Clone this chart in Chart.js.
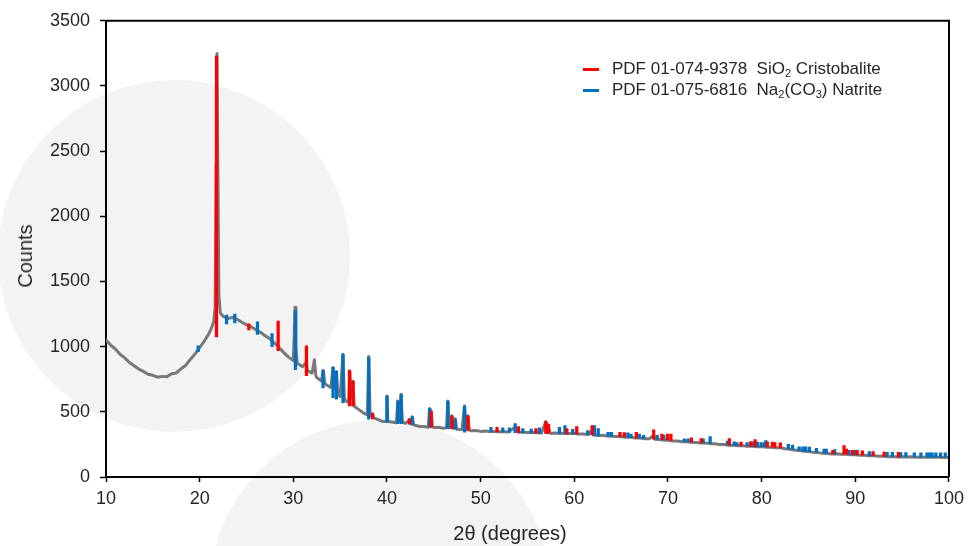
<!DOCTYPE html>
<html>
<head>
<meta charset="utf-8">
<script src="https://cdn.jsdelivr.net/npm/chart.js@4.4.1/dist/chart.umd.min.js"></script>
<style>
html,body{margin:0;padding:0;background:#fff;}
#wrap{position:relative;width:970px;height:546px;overflow:hidden;}
#c{position:absolute;left:0;top:0;}
.txt{position:absolute;font-family:'Liberation Sans',Arial,sans-serif;color:#262626;white-space:pre;line-height:20px;}
.sw{position:absolute;width:16px;height:3px;}
sub{font-size:11px;line-height:0;vertical-align:-3px;}
</style>
</head>
<body>
<div id="wrap">
<canvas id="c" width="970" height="546"></canvas>
<div class="txt" id="xTitle" style="left:510px;top:521px;font-size:20px;line-height:24px;transform:translateX(-50%);">2θ (degrees)</div>
<div class="txt" id="yTitle" style="left:25px;top:256px;font-size:20px;line-height:24px;transform:translate(-50%,-50%) rotate(-90deg);">Counts</div>
<div class="sw" style="left:583px;top:68px;background:#ff0000;"></div>
<div class="txt" style="left:612px;top:59px;font-size:17px;">PDF 01-074-9378  SiO<sub>2</sub> Cristobalite</div>
<div class="sw" style="left:583px;top:89px;background:#0070c0;"></div>
<div class="txt" style="left:612px;top:80px;font-size:17px;">PDF 01-075-6816  Na<sub>2</sub>(CO<sub>3</sub>) Natrite</div>
</div>
<script>
// ---- measured pattern (2θ in degrees, intensity in counts) ----
const scanAngles = [
10,10.5,11,11.5,12,12.5,13,13.5,14,14.5,15,15.5,16,16.5,17,17.5,18,18.5,19,19.5,
20,20.5,21,21.3,21.5,21.65,21.75,21.85,21.95,22.05,22.2,22.5,23,23.5,24,24.5,25,25.5,26,26.5,
27,27.5,28,28.5,29,29.5,30,30.1,30.18,30.28,30.4,30.5,31,31.4,31.5,32,32.25,32.4,32.5,33,
33.2,33.35,33.5,34,34.25,34.4,34.6,34.75,35,35.3,35.45,35.5,35.9,36.02,36.2,36.37,36.5,37,37.5,37.9,
38.05,38.2,38.45,38.6,39,39.5,39.9,40,40.1,40.5,41,41.15,41.3,41.5,41.65,42,42.4,42.55,42.7,42.85,
43,43.5,44,44.4,44.55,44.72,44.85,45,45.5,46,46.35,46.5,46.65,46.93,47.1,47.28,47.45,48,48.28,48.45,
48.64,48.8,49,49.5,50,50.5,51,51.5,52,52.5,53,53.7,54,54.5,55,55.5,56,56.5,56.95,57.2,
57.4,57.5,58,58.5,59,59.5,60,60.5,61,61.5,61.9,62,62.5,63,63.5,64,64.5,65,65.5,66,
66.5,67,67.5,68,68.47,68.6,69,69.5,70,70.5,71,71.5,72,72.5,73,73.5,74,74.5,75,75.5,
76,76.5,77,77.5,78,78.5,79,79.5,80,80.5,81,81.5,82,82.5,83,83.5,84,84.5,85,85.5,
86,86.5,87,87.5,88,88.5,89,89.5,90,90.5,91,91.5,92,92.5,93,93.5,94,94.5,95,95.5,
96,96.5,97,97.5,98,98.5,99,99.5,100
];
const scanCounts = [
1050,1012,982,942,914,878,854,828,810,788,780,766,772,770,792,798,830,856,902,943,
992,1043,1102,1150,1190,1300,2400,3250,2300,1400,1260,1232,1216,1224,1210,1187,1168,1152,1130,1110,
1083,1060,1028,992,953,920,893,1100,1303,1000,878,868,847,880,818,797,900,780,763,737,
818,725,708,687,840,680,810,640,617,942,600,588,572,816,600,735,543,517,490,477,
924,470,487,453,442,426,427,621,425,422,416,583,430,634,420,412,440,408,462,400,
397,388,388,382,525,502,387,380,382,374,377,583,376,470,372,447,366,364,545,363,
470,360,354,356,350,352,350,349,348,347,346,385,344,343,342,341,340,338,425,395,
341,335,337,336,334,333,333,329,330,325,360,323,319,320,315,313,311,309,305,305,
299,299,294,293,320,289,288,283,281,277,276,271,271,266,265,261,260,256,255,249,
249,244,243,239,239,235,235,232,233,229,229,225,225,217,213,207,203,197,196,189,
187,182,181,177,178,175,175,171,171,167,167,163,163,159,159,156,157,154,156,153,
155,152,154,151,153,151,152,150,151
];

// ---- PDF 01-074-9378 SiO2 Cristobalite reference sticks ----
const cristobaliteAngles = [21.80,25.25,28.38,31.40,36.00,36.37,38.45,42.40,44.72,46.93,48.64,51.75,54.04,55.90,56.95,57.25,59.20,60.26,61.90,64.88,65.34,66.62,68.47,69.35,69.95,70.31,72.50,73.55,76.55,77.80,78.84,79.30,80.60,81.15,81.40,82.00,87.60,88.80,89.05,89.70,90.20,90.75,91.90,93.07,94.60];
const cristobaliteLow  = [1075,1128,970,778,545,545,445,405,380,370,358,345,340,336,335,335,330,328,322,310,308,300,290,286,284,280,267,262,245,238,235,234,230,228,227,224,178,176,175,172,170,168,164,158,155];
const cristobaliteHigh = [3230,1175,1197,1007,816,735,487,447,502,470,470,381,386,372,425,405,372,386,394,343,340,343,361,330,330,330,300,295,295,267,272,288,270,268,265,262,205,242,215,205,205,200,195,192,190];

// ---- PDF 01-075-6816 Na2(CO3) Natrite reference sticks ----
const natriteAngles = [19.84,22.87,23.75,26.17,27.73,30.22,33.17,34.24,34.60,35.30,38.05,40.00,41.17,41.52,42.70,44.55,46.50,47.28,48.28,51.10,52.36,53.07,53.68,54.50,55.40,56.28,57.05,58.41,59.00,59.83,61.43,62.14,62.55,63.60,63.95,65.72,66.05,66.94,67.40,68.85,69.55,71.74,72.15,73.76,74.50,76.35,77.07,77.35,78.45,79.15,79.55,79.95,80.30,80.45,82.85,83.30,84.00,84.40,84.70,85.10,85.85,86.67,86.90,87.80,89.33,90.00,91.50,93.40,93.95,94.85,95.40,96.30,97.00,97.65,97.90,98.20,98.60,99.10,99.60];
const natriteLow  = [962,1175,1182,1093,1000,823,684,608,598,570,444,419,410,410,400,380,371,366,343,345,343,342,340,340,336,334,333,331,330,328,324,320,318,314,312,306,304,298,296,288,284,272,270,262,258,246,242,241,236,234,233,232,231,231,218,212,202,199,197,195,189,183,182,178,173,170,164,157,156,155,154,154,153,152,152,152,152,151,151];
const natriteHigh = [1007,1242,1250,1190,1100,1278,816,841,810,942,917,621,583,634,462,525,583,447,545,381,378,378,409,372,368,378,372,381,394,365,356,394,372,343,343,338,330,330,320,320,320,293,293,293,311,275,270,265,265,270,267,265,265,280,250,245,232,232,232,230,220,215,215,210,205,205,195,190,190,188,188,185,185,185,185,185,185,185,185];

// ---- axis ticks ----
const xTicks = [10,20,30,40,50,60,70,80,90,100];
const yTicks = [0,500,1000,1500,2000,2500,3000,3500];

const scanPoints = scanAngles.map((a, i) => ({x: a, y: scanCounts[i]}));
const cristPoints = cristobaliteAngles.map((a, i) => ({x: a, y: [cristobaliteLow[i], cristobaliteHigh[i]]}));
const natPoints = natriteAngles.map((a, i) => ({x: a, y: [natriteLow[i], natriteHigh[i]]}));

const decorPlugin = {
  id: 'decor',
  beforeDraw(chart) {
    const ctx = chart.ctx;
    ctx.save();
    ctx.fillStyle = '#ffffff';
    ctx.fillRect(0, 0, chart.width, chart.height);
    ctx.fillStyle = '#f3f3f3';
    ctx.beginPath(); ctx.arc(174, 256, 176, 0, Math.PI * 2); ctx.fill();
    ctx.beginPath(); ctx.arc(380, 590, 170, 0, Math.PI * 2); ctx.fill();
    ctx.restore();
  },
  afterDraw(chart) {
    const {ctx, chartArea: a} = chart;
    ctx.save();
    ctx.strokeStyle = '#000';
    ctx.lineWidth = 2;
    ctx.beginPath();
    ctx.moveTo(a.left, a.top); ctx.lineTo(a.right, a.top); ctx.lineTo(a.right, a.bottom);
    ctx.stroke();
    ctx.restore();
  }
};

const tickFont = {family: "'Liberation Sans', Arial, sans-serif", size: 18};

new Chart(document.getElementById('c'), {
  type: 'line',
  data: {
    datasets: [
      {type: 'bar', label: 'PDF 01-074-9378 SiO2 Cristobalite', data: cristPoints, backgroundColor: '#ff0000', borderWidth: 0, barThickness: 2.6, grouped: false, order: 0},
      {type: 'bar', label: 'PDF 01-075-6816 Na2(CO3) Natrite', data: natPoints, backgroundColor: '#0070c0', borderWidth: 0, barThickness: 2.6, grouped: false, order: 1},
      {type: 'line', label: 'Scan', data: scanPoints, borderColor: '#787878', borderWidth: 3, borderJoinStyle: 'round', borderCapStyle: 'round', pointRadius: 0, tension: 0, fill: false, order: 2}
    ]
  },
  options: {
    responsive: false,
    animation: false,
    devicePixelRatio: 1,
    layout: {padding: {top: 15, right: 20, left: 0, bottom: 0}},
    plugins: {legend: {display: false}, tooltip: {enabled: false}},
    scales: {
      x: {
        type: 'linear', min: 10, max: 100, offset: false,
        afterBuildTicks: s => { s.ticks = xTicks.map(v => ({value: v})); },
        afterFit: s => { s.height = 69; },
        ticks: {font: tickFont, color: '#262626', padding: 6, maxRotation: 0, callback: v => String(v)},
        grid: {display: true, offset: false, drawOnChartArea: false, drawTicks: true, tickLength: 5, tickColor: '#000', tickWidth: 1.5},
        border: {display: true, color: '#000', width: 2}
      },
      y: {
        type: 'linear', min: 0, max: 3500,
        afterBuildTicks: s => { s.ticks = yTicks.map(v => ({value: v})); },
        afterFit: s => { s.width = 106; },
        ticks: {font: tickFont, color: '#262626', padding: 10, callback: v => String(v)},
        grid: {display: true, drawOnChartArea: false, drawTicks: true, tickLength: 6, tickColor: '#000', tickWidth: 1.5},
        border: {display: true, color: '#000', width: 2}
      }
    }
  },
  plugins: [decorPlugin]
});
</script>
</body>
</html>
